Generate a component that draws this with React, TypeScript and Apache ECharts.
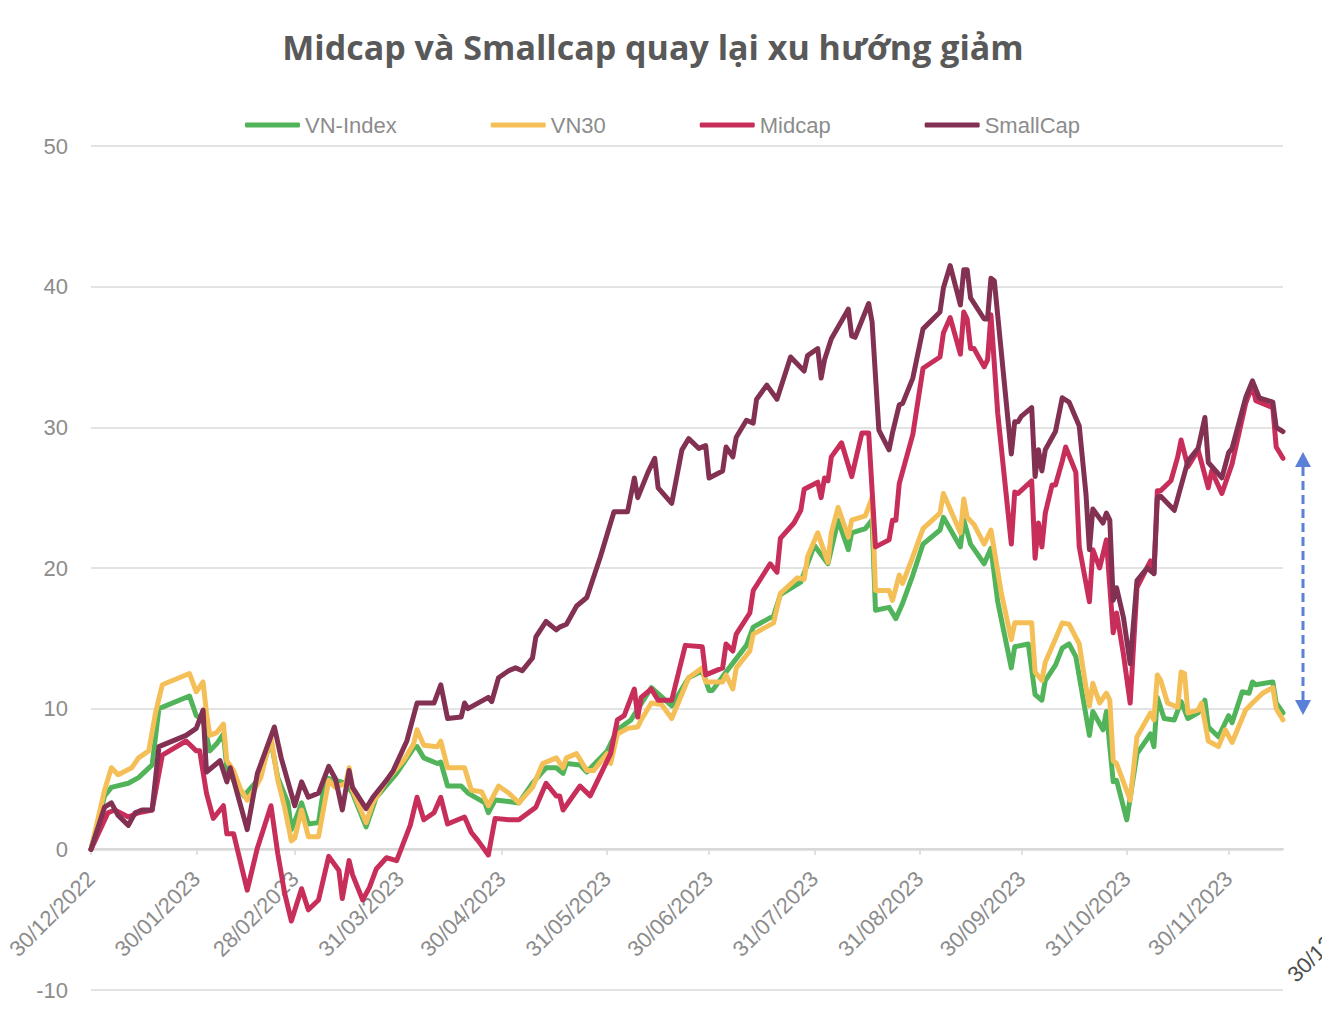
import React, { useEffect, useRef } from "react";
import * as echarts from "echarts";

// Day offsets from 30/12/2022, values = % change
const xTickDays = [0, 31, 60, 91, 121, 152, 182, 213, 244, 274, 305, 335];
const xTickLabels = [
  "30/12/2022", "30/01/2023", "28/02/2023", "31/03/2023", "30/04/2023", "31/05/2023",
  "30/06/2023", "31/07/2023", "31/08/2023", "30/09/2023", "31/10/2023", "30/11/2023",
];
const lastOffAxisLabel = "30/12/2023";
const seriesNames = ["VN-Index", "VN30", "Midcap", "SmallCap"];

const vnIndex = [[0,0],[4,3.8],[6,4.4],[11,4.7],[14,5.1],[18,6.0],[20,10.0],[29,10.9],[31,9.5],[33,9.2],[35,7.0],[37,7.5],[39,8.2],[40,5.8],[42,4.9],[45,3.8],[49,4.9],[53,7.7],[55,5.1],[58,3.3],[59,1.4],[61,2.6],[62,3.3],[64,1.8],[67,1.9],[69,5.1],[75,4.7],[77,4.0],[81,1.6],[84,3.7],[90,5.4],[95,7.2],[96,7.3],[98,6.5],[102,6.1],[103,6.2],[105,4.5],[109,4.5],[111,4.0],[116,3.3],[117,2.6],[119,3.5],[123,3.4],[126,3.3],[130,4.7],[134,5.8],[137,5.8],[139,5.4],[140,6.1],[144,6.0],[146,5.5],[152,7.0],[155,8.5],[159,9.2],[165,11.5],[171,10.2],[176,12.2],[180,12.7],[182,11.3],[183,11.3],[187,12.6],[193,14.5],[195,15.8],[201,16.6],[203,18.1],[209,19.0],[213,21.6],[217,20.3],[220,23.4],[223,21.3],[224,22.5],[228,22.8],[230,23.4],[231,17.0],[235,17.2],[237,16.4],[239,17.5],[242,19.5],[245,21.7],[250,22.7],[251,23.6],[256,21.5],[257,23.4],[259,21.7],[263,20.3],[265,21.4],[267,17.6],[271,12.9],[272,14.4],[276,14.6],[278,11.0],[280,10.6],[281,12.0],[284,13.1],[286,14.3],[288,14.6],[290,13.7],[294,8.1],[295,9.8],[298,8.5],[299,9.8],[301,4.8],[302,4.9],[305,2.1],[308,6.8],[312,8.2],[313,7.3],[314,10.8],[316,9.3],[319,9.2],[321,10.5],[323,9.3],[326,9.7],[328,10.6],[329,8.7],[332,8.0],[335,9.5],[336,9.0],[339,11.2],[341,11.1],[342,11.9],[343,11.7],[348,11.9],[349,10.4],[351,9.7]];

const vn30 = [[0,0],[4,4.2],[6,5.8],[8,5.3],[12,5.8],[14,6.5],[17,7.0],[19,9.7],[21,11.7],[29,12.5],[31,11.2],[33,11.9],[34,9.7],[35,8.1],[37,8.3],[39,8.9],[40,6.3],[42,5.6],[44,4.3],[46,3.5],[48,4.2],[50,5.1],[53,8.0],[55,4.9],[57,3.0],[59,0.6],[60,0.8],[62,2.8],[64,0.9],[67,0.9],[70,4.9],[72,4.4],[75,4.7],[76,5.8],[77,4.2],[81,1.9],[83,3.3],[87,4.9],[92,6.3],[95,7.5],[96,8.5],[98,7.4],[102,7.3],[103,7.7],[105,5.8],[110,5.8],[112,4.2],[115,4.1],[117,3.1],[120,4.5],[123,4.0],[126,3.3],[130,4.4],[133,6.1],[137,6.5],[139,5.8],[140,6.5],[143,6.8],[146,5.6],[148,5.6],[152,6.8],[153,6.1],[155,8.2],[158,8.6],[161,8.7],[162,9.2],[165,10.4],[168,10.3],[171,9.3],[176,12.2],[180,12.9],[181,11.9],[186,11.9],[187,12.4],[189,11.4],[190,12.9],[194,14.1],[195,15.3],[201,16.1],[203,18.2],[208,19.3],[210,19.2],[211,20.8],[214,22.5],[217,20.4],[218,22.5],[220,24.3],[223,22.2],[224,23.4],[228,23.7],[230,25.0],[231,18.4],[235,18.4],[236,17.7],[238,19.5],[239,18.9],[242,20.8],[245,22.8],[250,23.9],[251,25.3],[256,22.5],[257,24.9],[258,23.6],[260,23.1],[263,21.7],[265,22.7],[268,18.3],[271,14.9],[272,16.1],[277,16.1],[278,12.6],[280,12.0],[281,13.3],[283,14.4],[286,16.1],[288,16.0],[291,14.6],[293,11.5],[294,10.2],[295,11.8],[297,10.4],[299,11.1],[300,10.6],[301,6.3],[302,6.1],[306,3.5],[308,8.0],[312,9.7],[313,9.2],[314,12.4],[315,12.0],[317,10.4],[320,10.1],[321,12.6],[322,12.5],[323,9.7],[326,9.9],[327,10.4],[329,7.7],[332,7.3],[334,8.5],[336,7.6],[340,9.9],[342,10.4],[345,11.1],[348,11.5],[349,10.0],[351,9.2]];

const midcap = [[0,0],[5,2.6],[7,2.8],[11,2.3],[14,2.6],[18,2.8],[21,6.7],[28,7.7],[31,7.0],[32,7.0],[34,4.0],[36,2.2],[39,3.1],[40,1.1],[42,1.1],[46,-2.9],[49,0.1],[53,3.1],[55,-0.3],[57,-3.1],[59,-5.1],[62,-2.8],[64,-4.3],[67,-3.6],[70,-0.5],[73,-1.5],[74,-3.5],[76,-0.8],[77,-1.8],[80,-3.6],[82,-2.7],[84,-1.4],[87,-0.6],[90,-0.8],[94,1.7],[96,3.7],[98,2.1],[101,2.6],[103,3.7],[105,1.8],[108,2.1],[110,2.3],[112,1.2],[114,0.6],[117,-0.4],[119,2.2],[123,2.1],[126,2.1],[131,3.0],[134,4.7],[137,3.8],[138,3.8],[139,2.8],[144,4.5],[147,3.8],[153,6.8],[155,9.2],[157,9.5],[160,11.4],[161,9.4],[162,10.8],[165,11.4],[167,10.6],[171,10.6],[175,14.5],[180,14.4],[181,12.4],[186,12.9],[187,14.6],[189,14.1],[190,15.3],[194,16.8],[195,18.4],[200,20.3],[202,19.7],[203,22.1],[207,23.2],[209,24.1],[210,25.6],[214,26.1],[215,25.0],[216,26.4],[217,26.2],[218,27.9],[221,28.9],[224,26.5],[227,29.6],[229,29.6],[231,21.5],[235,22.0],[236,23.4],[237,23.4],[238,26.0],[242,29.5],[245,34.2],[250,35.0],[251,36.7],[253,37.8],[256,35.2],[257,38.2],[258,37.7],[259,35.6],[260,35.6],[263,34.3],[264,34.8],[265,38.0],[267,31.0],[271,21.7],[272,25.4],[273,25.3],[277,26.2],[278,20.7],[279,23.2],[280,21.5],[281,23.9],[283,25.9],[284,25.9],[286,27.6],[287,28.6],[290,26.8],[291,21.5],[294,17.6],[295,21.3],[297,20.0],[299,22.0],[301,15.4],[302,16.8],[304,13.9],[306,10.4],[308,18.6],[312,20.5],[313,19.6],[314,25.5],[315,25.5],[318,26.2],[320,27.9],[321,29.1],[323,27.2],[326,28.4],[329,25.7],[330,26.9],[333,25.3],[336,27.4],[340,31.7],[342,33.0],[343,31.9],[348,31.4],[349,28.6],[351,27.8]];

const smallCap = [[0,0],[4,3.0],[6,3.3],[8,2.4],[11,1.7],[13,2.6],[15,2.8],[18,2.8],[20,7.3],[28,8.1],[31,8.6],[33,9.9],[34,5.5],[38,6.3],[40,4.8],[41,5.8],[46,1.4],[49,5.4],[54,8.7],[56,6.5],[60,3.1],[62,4.8],[64,3.7],[67,4.0],[70,5.9],[72,5.0],[74,2.8],[76,5.6],[77,4.4],[81,2.9],[83,3.7],[87,4.9],[89,5.6],[93,7.7],[96,10.4],[101,10.4],[103,11.7],[105,9.3],[109,9.4],[110,10.4],[111,10.0],[117,10.8],[118,10.5],[120,12.2],[123,12.7],[125,12.9],[127,12.7],[130,13.6],[131,15.1],[134,16.2],[137,15.6],[138,15.8],[140,16.0],[143,17.3],[146,17.9],[150,20.8],[154,24.0],[158,24.0],[160,26.4],[161,25.0],[164,26.8],[166,27.8],[167,25.7],[171,24.6],[174,28.4],[176,29.2],[179,28.5],[181,28.7],[182,26.4],[186,26.9],[187,28.6],[189,27.9],[190,29.3],[193,30.5],[195,30.3],[196,32.0],[199,33.0],[202,32.0],[206,35.0],[210,34.0],[211,35.1],[214,35.6],[215,33.5],[216,34.8],[218,36.3],[223,38.4],[224,36.5],[225,36.4],[229,38.8],[230,37.5],[232,29.8],[235,28.4],[236,29.6],[238,31.6],[239,31.7],[242,33.5],[245,37.0],[250,38.2],[251,39.9],[253,41.5],[256,38.7],[257,41.2],[258,41.2],[259,39.2],[263,37.7],[264,37.7],[265,40.6],[266,40.4],[271,28.1],[272,30.4],[273,30.4],[274,30.8],[277,31.4],[278,26.5],[279,28.4],[280,26.9],[281,28.4],[284,29.7],[286,32.1],[288,31.8],[291,30.1],[293,25.2],[294,21.3],[295,24.2],[298,23.2],[299,23.9],[300,23.4],[301,17.7],[302,18.6],[304,16.5],[306,13.2],[308,19.1],[311,20.0],[313,19.6],[314,25.0],[315,25.1],[319,24.1],[323,27.6],[326,28.5],[328,30.7],[329,27.5],[333,26.4],[335,28.2],[336,28.5],[340,32.1],[342,33.3],[344,32.1],[348,31.8],[349,30.0],[351,29.7]];

const colors = ["#52B45A", "#F5BF57", "#C82E5A", "#833152"];
const FONT = "'Liberation Sans', Arial, sans-serif";

export default function App() {
  const ref = useRef<HTMLDivElement>(null);
  useEffect(() => {
    if (!ref.current) return;
    const chart = echarts.init(ref.current, null, { renderer: "svg" });
    const dataSets = [vnIndex, vn30, midcap, smallCap];
    chart.setOption({
      animation: false,
      backgroundColor: "#ffffff",
      color: colors,
      grid: { left: 91, right: 39, top: 146, bottom: 22, containLabel: false, outerBoundsMode: "none" },
      legend: {
        left: 240,
        top: 109,
        icon: "roundRect",
        itemWidth: 55,
        itemHeight: 5,
        itemGap: 94,
        data: seriesNames,
        textStyle: { color: "#8c8c8c", fontSize: 22, fontFamily: FONT },
      },
      xAxis: {
        type: "value",
        min: 0,
        max: 351,
        position: "bottom",
        offset: -141,
        z: 0,
        splitLine: { show: false },
        axisLine: { onZero: false, lineStyle: { color: "#d9d9d9", width: 2 } },
        axisTick: { show: true, length: 6, lineStyle: { color: "#d9d9d9", width: 1.5 }, customValues: xTickDays },
        axisLabel: {
          customValues: xTickDays,
          rotate: 45,
          margin: 26,
          color: "#8c8c8c",
          fontSize: 22,
          fontFamily: FONT,
          formatter: (v: number) => {
            const i = xTickDays.indexOf(Math.round(v));
            return i >= 0 ? xTickLabels[i] : "";
          },
        },
      },
      yAxis: {
        type: "value",
        min: -10,
        max: 50,
        interval: 10,
        axisLine: { show: false },
        axisTick: { show: false },
        splitLine: { lineStyle: { color: "#e3e3e3", width: 2 } },
        axisLabel: { color: "#8c8c8c", fontSize: 22, fontFamily: FONT, margin: 23 },
      },
      series: seriesNames.map((name, i) => ({
        name,
        type: "line",
        z: 3,
        data: dataSets[i],
        showSymbol: false,
        symbol: "none",
        lineStyle: { width: 5, color: colors[i], cap: "round", join: "round" },
        itemStyle: { color: colors[i] },
      })),
      graphic: [
        {
          type: "text",
          x: 653,
          y: 47,
          style: {
            text: "Midcap và Smallcap quay lại xu hướng giảm",
            font: "bold 34px 'Open Sans', sans-serif",
            fill: "#595959",
            textAlign: "center",
            textVerticalAlign: "middle",
          },
        },
        {
          type: "text",
          x: 1299,
          y: 986,
          rotation: Math.PI / 4,
          style: {
            text: lastOffAxisLabel,
            font: "22px 'Liberation Sans', Arial, sans-serif",
            fill: "#4d4d4d",
            textAlign: "left",
            textVerticalAlign: "bottom",
          },
        },
        {
          type: "line",
          shape: { x1: 1303, y1: 467, x2: 1303, y2: 700 },
          style: { stroke: "#5B80D8", lineWidth: 3, lineDash: [9, 5] },
        },
        {
          type: "polygon",
          shape: { points: [[1303, 452], [1295, 467], [1311, 467]] },
          style: { fill: "#5B80D8" },
        },
        {
          type: "polygon",
          shape: { points: [[1303, 715], [1295, 700], [1311, 700]] },
          style: { fill: "#5B80D8" },
        },
      ],
    });
    return () => chart.dispose();
  }, []);
  return (
    <div
      ref={ref}
      style={{ position: "fixed", left: 0, top: 0, width: 1322, height: 1012 }}
    />
  );
}
